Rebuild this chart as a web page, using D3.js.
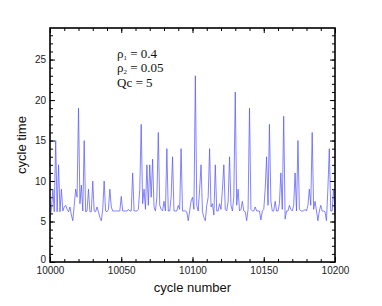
<!DOCTYPE html>
<html>
<head>
<meta charset="utf-8">
<script src="https://cdn.jsdelivr.net/npm/d3@7"></script>
<style>
  body { margin: 0; background: #fff; }
  .tick text { font-family: "Liberation Sans", Arial, sans-serif; font-size: 10px; fill: #222; }
  .axisTitle { font-family: "Liberation Sans", Arial, sans-serif; font-size: 13px; fill: #111; }
  .note { font-family: "Liberation Serif", "Times New Roman", serif; font-size: 13px; fill: #111; }
</style>
</head>
<body>
<div id="container"></div>
<script>
// cycle numbers shown on the x axis
var xTicks = [10000, 10050, 10100, 10150, 10200];
var yTicks = [0, 5, 10, 15, 20, 25];
var firstCycle = 10000;

// cycle time per cycle (cycle 10000 .. 10200)
var cycleTimes = [
  5.4, 6.5, 9, 6.2, 15, 6.2, 12, 6.2, 9, 6.3,
  6.8, 7, 6.5, 6.2, 6.8, 5.8, 5.1, 7, 9, 8,
  19, 7.2, 9.5, 6.3, 15, 6.2, 6.3, 9, 6.2, 6.2,
  10, 6.3, 6.2, 6.8, 6.2, 5.5, 5.1, 6.5, 10, 6.3,
  6.2, 6.5, 9, 6.8, 6.3, 6.3, 6.3, 6.3, 6.3, 6.3,
  8.1, 6.3, 6.3, 6.3, 6.3, 6.5, 6.3, 6.3, 11, 6.3,
  6.3, 6.3, 6.5, 9, 17, 7.2, 9, 6.5, 12, 7,
  12, 8, 12.7, 6.8, 6.3, 8, 16, 7, 6.5, 6.3,
  7.5, 6.3, 14, 6.3, 6.3, 8, 13, 6.3, 6.3, 6.3,
  7, 6.5, 14, 6.3, 6.3, 6.3, 6.2, 5.1, 6.3, 7.5,
  8, 6.5, 23, 7, 6.3, 9, 12, 6.2, 5.5, 5.1,
  7, 8, 14, 6.8, 7.2, 5.8, 12, 6.3, 6.3, 7.2,
  6.5, 9, 12, 6.5, 6.3, 7.5, 13, 7, 6.3, 8,
  21, 7, 9, 6.3, 6.5, 7.5, 6.3, 6.2, 5.1, 6.5,
  19, 6.5, 6.3, 6.3, 6.8, 6.3, 6.3, 6.3, 5.2, 6.3,
  6.5, 9, 13, 7, 17, 7.5, 6.3, 6.3, 7.5, 6.3,
  6.3, 7.2, 11, 6.5, 18, 5.3, 6.3, 6.3, 7, 6.5,
  6.3, 7, 11, 6.3, 15, 6.5, 6.3, 6.3, 6.3, 6.5,
  6.3, 7, 9, 7, 16, 6.5, 7.5, 6.3, 5.1, 6.3,
  7, 6.3, 6.3, 6.2, 5.1, 9, 14, 6.3, 6.3, 9,
  6.3
];

var width = 382;
var height = 306;
var leftMargin = 50;
var rightEdge = 335;
var topMargin = 28;
var bottomEdge = 262;

var svg = d3.select("#container")
  .append("svg")
  .attr("width", width)
  .attr("height", height);

var x = d3.scaleLinear()
  .domain([10000, 10200])
  .range([leftMargin, rightEdge]);
var y = d3.scaleLinear()
  .domain([0, 28.9])
  .range([bottomEdge, topMargin]);

var minorX = d3.range(10000, 10201, 10);
var minorY = d3.range(0, 29, 1);

// minor ticks on all four sides, pointing inward
function minorAxis(axis, values) {
  return axis.tickValues(values).tickSize(3).tickFormat("");
}

svg.append("g")
  .attr("transform", "translate(0," + bottomEdge + ")")
  .call(minorAxis(d3.axisTop(x), minorX));
svg.append("g")
  .attr("transform", "translate(0," + topMargin + ")")
  .call(minorAxis(d3.axisBottom(x), minorX));
svg.append("g")
  .attr("transform", "translate(" + leftMargin + ",0)")
  .call(minorAxis(d3.axisRight(y), minorY));
svg.append("g")
  .attr("transform", "translate(" + rightEdge + ",0)")
  .call(minorAxis(d3.axisLeft(y), minorY));

// major ticks
svg.append("g")
  .attr("transform", "translate(0," + topMargin + ")")
  .call(d3.axisBottom(x).tickValues(xTicks).tickSize(5).tickFormat(""));
svg.append("g")
  .attr("transform", "translate(" + rightEdge + ",0)")
  .call(d3.axisLeft(y).tickValues(yTicks).tickSize(5).tickFormat(""));

var xAxis = svg.append("g")
  .attr("transform", "translate(0," + bottomEdge + ")")
  .call(d3.axisTop(x).tickValues(xTicks).tickSize(5).tickFormat(d3.format("d")));
xAxis.selectAll("text").attr("y", 5).attr("dy", "0.71em");

var yAxis = svg.append("g")
  .attr("transform", "translate(" + leftMargin + ",0)")
  .call(d3.axisRight(y).tickValues(yTicks).tickSize(5));
yAxis.selectAll("text")
  .attr("x", -4)
  .attr("text-anchor", "end")
  .attr("dy", function(d) { return d == 0 ? "0.05em" : "0.32em"; });

svg.selectAll(".domain").remove();
svg.selectAll(".tick line").attr("stroke", "#000").attr("stroke-width", 1);

// the line
var line = d3.line()
  .x(function(d, i) { return x(firstCycle + i); })
  .y(function(d) { return y(d); });

svg.append("path")
  .datum(cycleTimes)
  .attr("d", line)
  .attr("fill", "none")
  .attr("stroke", "#5a5aff")
  .attr("stroke-width", 0.75);

// frame
svg.append("rect")
  .attr("x", leftMargin)
  .attr("y", topMargin)
  .attr("width", rightEdge - leftMargin)
  .attr("height", bottomEdge - topMargin)
  .attr("fill", "none")
  .attr("stroke", "#000")
  .attr("stroke-width", 1.6);

// axis titles
svg.append("text")
  .attr("class", "axisTitle")
  .attr("x", (leftMargin + rightEdge) / 2)
  .attr("y", 292)
  .attr("text-anchor", "middle")
  .text("cycle number");
svg.append("text")
  .attr("class", "axisTitle")
  .attr("transform", "translate(26," + ((topMargin + bottomEdge) / 2) + ") rotate(-90)")
  .attr("text-anchor", "middle")
  .text("cycle time");

// parameter note
var notes = [["ρ", "1", " = 0.4"], ["ρ", "2", " = 0.05"], ["Qc = 5", "", ""]];
var noteY = [58, 72, 87];
notes.forEach(function(n, i) {
  var t = svg.append("text")
    .attr("class", "note")
    .attr("x", 117)
    .attr("y", noteY[i]);
  t.append("tspan").text(n[0]);
  if (n[1] != "") {
    t.append("tspan").attr("dy", 2).attr("font-size", "7px").text(n[1]);
    t.append("tspan").attr("dy", -2).text(n[2]);
  }
});
</script>
</body>
</html>
